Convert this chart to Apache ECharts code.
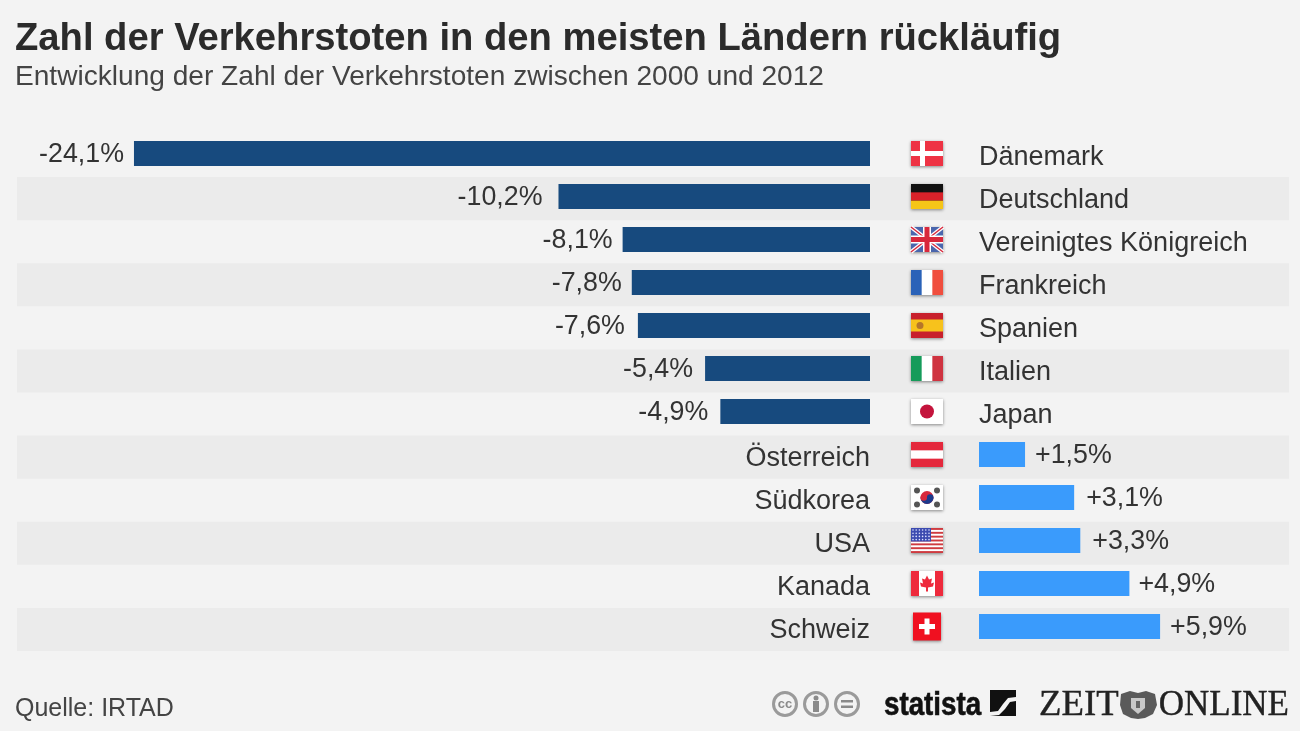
<!DOCTYPE html>
<html><head><meta charset="utf-8">
<style>html,body{margin:0;padding:0;background:#f3f3f3}#c{width:1300px;height:731px;filter:blur(.5px)}</style>
<script src="https://cdn.jsdelivr.net/npm/echarts@6/dist/echarts.min.js"></script>
</head><body><div id="c"></div>
<script>
const countries = ['Dänemark','Deutschland','Vereinigtes Königreich','Frankreich','Spanien','Italien','Japan','Österreich','Südkorea','USA','Kanada','Schweiz'];
const declines = [-24.1,-10.2,-8.1,-7.8,-7.6,-5.4,-4.9,null,null,null,null,null];
const increases = [null,null,null,null,null,null,null,1.5,3.1,3.3,4.9,5.9];
const flagCodes = ['dk','de','gb','fr','es','it','jp','at','kr','us','ca','ch'];
const labelGaps = [10,16,10,10,13,12,12,10,12,12,9,10];

const FONT = '"Liberation Sans", Arial, sans-serif';
const TXT = '#333333';
const fmt = v => (v > 0 ? '+' : '') + v.toFixed(1).replace('.', ',') + '%';
const withGap = arr => arr.map((v,i)=> v==null ? null : {value:v,label:{distance:labelGaps[i]}});

function R(x,y,w,h,fill,extra){return Object.assign({type:'rect',shape:{x,y,width:w,height:h},style:{fill}},extra||{});}
function C(cx,cy,r,fill){return {type:'circle',shape:{cx,cy,r},style:{fill}};}
function L(x1,y1,x2,y2,stroke,lw){return {type:'line',shape:{x1,y1,x2,y2},style:{stroke,lineWidth:lw}};}
function flag(code){
  const W=32,H=25,x=-16,y=-12.5;
  const base=c=>R(x,y,W,H,c,{style:{fill:c,shadowBlur:3,shadowColor:'rgba(0,0,0,.45)',shadowOffsetY:1}});
  const t=H/3;
  switch(code){
    case 'dk':return [base('#ee3344'),R(x+9,y,5,H,'#fff'),R(x,y+10,W,5,'#fff')];
    case 'de':return [base('#111'),R(x,y+t,W,t,'#d8222a'),R(x,y+2*t,W,t,'#f5c518')];
    case 'gb':return [base('#4a66ad'),L(x,y,x+W,y+H,'#fff',4),L(x+W,y,x,y+H,'#fff',4),L(x,y,x+W,y+H,'#d8283c',1.4),L(x+W,y,x,y+H,'#d8283c',1.4),R(-4,y,8,H,'#fff'),R(x,-4,W,8,'#fff'),R(-2.5,y,5,H,'#d8283c'),R(x,-2.5,W,5,'#d8283c')];
    case 'fr':return [base('#fff'),R(x,y,W/3,H,'#2a62b8'),R(x+2*W/3,y,W/3,H,'#f04e3e')];
    case 'es':return [base('#c8202c'),R(x,y+6.5,W,12,'#f7c21c'),C(-7,0,3.5,'#b5762a')];
    case 'it':return [base('#fff'),R(x,y,W/3,H,'#169b5a'),R(x+2*W/3,y,W/3,H,'#cf3340')];
    case 'jp':return [base('#fff'),C(0,0,7,'#c4143c')];
    case 'at':return [base('#e4283c'),R(x,y+t,W,t,'#fff')];
    case 'kr':return [base('#fff'),C(0,0,6.5,'#d8283c'),{type:'sector',shape:{cx:0,cy:0,r:6.5,r0:0,startAngle:0,endAngle:Math.PI},style:{fill:'#1c3a8c'}},C(-3.2,0,3.25,'#d8283c'),C(3.2,0,3.25,'#1c3a8c'),
      C(-10,-7,3,'#555'),C(10,-7,3,'#555'),C(-10,7,3,'#555'),C(10,7,3,'#555')];
    case 'us':{const a=[base('#fff')];for(let i=0;i<7;i++)a.push(R(x,y+i*2*H/13,W,H/13,'#cf3b40'));a.push(R(x,y,20,13.5,'#3c4bb0'));
      for(let r=0;r<4;r++)for(let c=0;c<6;c++)a.push(C(x+2+c*3.2,y+2+r*3.2,.8,'#dfe3ff'));return a;}
    case 'ca':return [base('#fff'),R(x,y,8,H,'#ee2a3c'),R(x+W-8,y,8,H,'#ee2a3c'),{type:'polygon',shape:{points:[[0,-8],[2,-4],[5,-5],[4,0],[7,-1],[6,3],[1,4],[1,8],[-1,8],[-1,4],[-6,3],[-7,-1],[-4,0],[-5,-5],[-2,-4]]},style:{fill:'#ee2a3c'}}];
    case 'ch':return [R(-14,-14,28,28,'#f01020',{style:{fill:'#f01020',shadowBlur:3,shadowColor:'rgba(0,0,0,.45)',shadowOffsetY:1}}),R(-2.5,-8,5,16,'#fff'),R(-8,-2.5,16,5,'#fff')];
  }
  return [];
}

const chart = echarts.init(document.getElementById('c'), null, {renderer:'canvas'});
const leftX = 17, axisL = 870, axisR = 979, rightX = 1289;
const serif = '35px "Liberation Serif", serif';
const catBase = {type:'category',inverse:true,data:countries,axisLine:{show:false},axisTick:{show:false}};
chart.setOption({
  animation:false,
  backgroundColor:'#f3f3f3',
  textStyle:{fontFamily:FONT},
  title:[
    {text:'Zahl der Verkehrstoten in den meisten Ländern rückläufig',left:15,top:20,padding:0,textStyle:{fontFamily:FONT,fontSize:38.2,fontWeight:'bold',color:'#2b2b2b'}},
    {text:'Entwicklung der Zahl der Verkehrstoten zwischen 2000 und 2012',left:15,top:63,padding:0,textStyle:{fontFamily:FONT,fontSize:28.1,fontWeight:'normal',color:'#444'}},
    {text:'Quelle: IRTAD',left:15,top:697,padding:0,textStyle:{fontFamily:FONT,fontSize:25,fontWeight:'normal',color:'#444'}}
  ],
  grid:[
    {left:leftX,width:rightX-leftX,top:134,height:517},
    {left:leftX,width:axisL-leftX,top:132,height:516},
    {left:axisR,width:rightX-axisR,top:132,height:516},
    {left:leftX,width:axisL-leftX,top:136,height:516},
    {left:axisR,width:rightX-axisR,top:136,height:516}
  ],
  xAxis:[
    {gridIndex:0,type:'value',min:0,max:1,show:false},
    {gridIndex:1,type:'value',min:-27.93,max:0,show:false},
    {gridIndex:2,type:'value',min:0,max:10.1,show:false},
    {gridIndex:3,type:'value',min:0,max:1,show:false},
    {gridIndex:4,type:'value',min:0,max:1,show:false}
  ],
  yAxis:[
    {...catBase,gridIndex:0,axisLabel:{show:false},splitLine:{show:false},splitArea:{show:true,areaStyle:{color:['rgba(0,0,0,0)','#ebebeb']}}},
    {...catBase,gridIndex:1,axisLabel:{show:false}},
    {...catBase,gridIndex:2,axisLabel:{show:false}},
    {...catBase,gridIndex:3,position:'right',
      axisLabel:{inside:true,margin:0,fontFamily:FONT,fontSize:27,color:TXT,interval:0,
        formatter:(v,i)=>declines[i]==null?v:''}},
    {...catBase,gridIndex:4,position:'left',
      axisLabel:{inside:true,margin:0,fontFamily:FONT,fontSize:27,color:TXT,interval:0,
        formatter:(v,i)=>increases[i]==null?v:''}}
  ],
  series:[
    {type:'bar',xAxisIndex:1,yAxisIndex:1,data:withGap(declines),barWidth:25,itemStyle:{color:'#174a7e'},
      label:{show:true,position:'left',offset:[0,1.5],fontFamily:FONT,fontSize:26.8,color:TXT,formatter:p=>fmt(p.value)}},
    {type:'bar',xAxisIndex:2,yAxisIndex:2,data:withGap(increases),barWidth:25,itemStyle:{color:'#3a9bfc'},
      label:{show:true,position:'right',offset:[0,1.5],fontFamily:FONT,fontSize:26.8,color:TXT,formatter:p=>fmt(p.value)}},
    {type:'custom',xAxisIndex:1,yAxisIndex:1,clip:false,silent:true,z:5,data:flagCodes.map((c,i)=>[0,i]),
      renderItem:(params,api)=>{
        const i=api.value(1),p=api.coord([0,i]);
        return {type:'group',x:p[0]+57,y:p[1],children:flag(flagCodes[i])};
      }}
  ],
  graphic:[
    ...[785,816,847].map(cx=>({type:'circle',shape:{cx,cy:704,r:11.5},style:{fill:'none',stroke:'#9a9a9a',lineWidth:3}})),
    {type:'text',style:{x:785,y:704,text:'cc',align:'center',verticalAlign:'middle',font:'bold 13px '+FONT,fill:'#8a8a8a'}},
    {type:'circle',shape:{cx:816,cy:698,r:2.5},style:{fill:'#8a8a8a'}},
    {type:'rect',shape:{x:813,y:701,width:6,height:11},style:{fill:'#8a8a8a'}},
    {type:'rect',shape:{x:841,y:700,width:12,height:2.5},style:{fill:'#8a8a8a'}},
    {type:'rect',shape:{x:841,y:705.5,width:12,height:2.5},style:{fill:'#8a8a8a'}},
    {type:'text',x:884,y:706,scaleX:.84,style:{x:0,y:0,text:'statista',align:'left',verticalAlign:'middle',font:'bold 33px '+FONT,fill:'#111',stroke:'#111',lineWidth:.6}},
    {type:'rect',shape:{x:990,y:690,width:26,height:26},style:{fill:'#111'}},
    {type:'polygon',shape:{points:[[990,712],[998,711],[1003,704],[1008,698],[1016,697],[1016,701],[1010,702],[1005,709],[999,715],[990,716]]},style:{fill:'#f3f3f3'}},
    {type:'text',x:1039,y:706,scaleX:1.05,style:{x:0,y:0,text:'ZEIT',align:'left',verticalAlign:'middle',font:serif,fill:'#222',stroke:'#222',lineWidth:.4}},
    {type:'polygon',shape:{points:[[1121,694],[1130,691],[1138,693],[1146,691],[1155,694],[1157,705],[1153,714],[1145,718],[1138,719],[1131,718],[1123,714],[1120,705]]},style:{fill:'#5a5a5a'}},
    {type:'polygon',shape:{points:[[1131,698],[1145,698],[1145,708],[1138,714],[1131,708]]},style:{fill:'#c8c8c8'}},
    {type:'rect',shape:{x:1136,y:701,width:4,height:7},style:{fill:'#666'}},
    {type:'text',x:1289,y:706,scaleX:1.0,style:{x:0,y:0,text:'ONLINE',align:'right',verticalAlign:'middle',font:serif,fill:'#222',stroke:'#222',lineWidth:.4}}
  ]
});
</script></body></html>
